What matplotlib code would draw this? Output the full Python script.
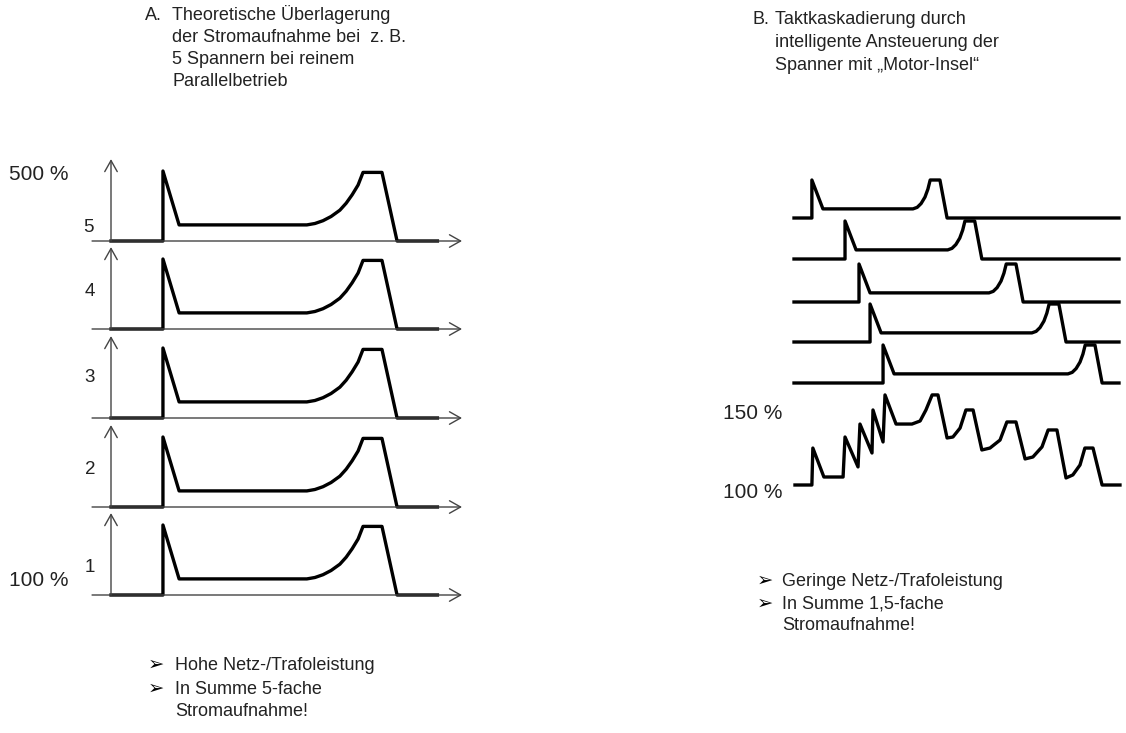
import matplotlib
matplotlib.use('Agg')
import matplotlib.pyplot as plt

W, H = 1126, 733
plt.rcParams['font.family'] = ['Liberation Sans', 'DejaVu Sans']

# --- data -------------------------------------------------------------
# A: current profile of one clamp (time 0..100, current in % of one clamp)
pulse_t = [0, 14.8, 14.8, 19.4, 55.8, 58.1, 60.4, 62.7, 65.2, 67.0, 68.7,
           70.4, 71.8, 77.2, 81.5, 93.0]
pulse_i = [0, 0, 100, 23, 23, 25, 29, 35, 44, 54, 66, 80, 98, 98, 0, 0]
clamps = ['5', '4', '3', '2', '1']

# B: staggered clamps, start of inrush and end of the pulse (time 0..100)
row_start = [5.5, 15.7, 20.0, 23.4, 27.4]
row_end = [47.1, 57.8, 70.5, 83.7, 94.8]
spike_dt = [0, 0, 3.4]          # relative to start
spike_i = [0, 100, 24]
hump_dt = [-10.5, -9.2, -8.0, -6.8, -5.9, -5.2, -2.2, 0]   # relative to end
hump_i = [24, 28, 38, 55, 76, 100, 100, 0]

# B: summed current in %
sum_t = [0.3, 5.5, 5.8, 9.2, 15.1, 15.7, 19.7, 20.3, 24.0, 24.3, 27.4, 28.0,
         31.4, 36.3, 38.8, 40.6, 42.5, 44.3, 47.1, 48.9, 51.1, 52.9, 55.1,
         57.8, 60.3, 63.4, 65.5, 68.3, 71.1, 73.5, 76.3, 78.2, 80.9, 83.7,
         85.8, 88.0, 89.5, 92.0, 94.8, 100.3]
sum_i = [100, 100, 123.1, 105, 105, 130, 111.3, 138.1, 120, 146.9, 126.9,
         156.3, 138.1, 138.1, 140, 146.9, 156.3, 156.3, 129.4, 130, 135.6,
         146.9, 146.9, 121.9, 123.1, 128.1, 139.4, 139.4, 116.3, 117.5,
         123.8, 134.4, 134.4, 104.4, 106.3, 112.5, 123.1, 123.1, 100, 100]


fig = plt.figure(figsize=(W / 100, H / 100), dpi=100)


def px_axes(x0, y0, x1, y1, xlim, ylim):
    a = fig.add_axes([x0 / W, 1 - y1 / H, (x1 - x0) / W, (y1 - y0) / H])
    a.set_xlim(*xlim)
    a.set_ylim(*ylim)
    a.axis('off')
    return a


def ftext(x, y, s, **kw):
    kw.setdefault('fontsize', 13)
    kw.setdefault('color', '#222222')
    kw.setdefault('va', 'center')
    fig.text(x / W, 1 - y / H, s, **kw)


arrow = dict(arrowstyle='->,head_length=0.8,head_width=0.45', lw=1.0,
             color='#444444', shrinkA=0, shrinkB=0)
thick = dict(color='black', lw=2.4, solid_joinstyle='round', clip_on=False)

# --- A: five clamps in parallel --------------------------------------
baselines = [241, 329, 418, 507, 595]
for base in baselines:
    ax = px_axes(111, base - 70, 462, base, (0, 100), (0, 100))
    ax.annotate('', xy=(100, 0), xytext=(-5.4, 0), arrowprops=arrow,
                annotation_clip=False)
    ax.annotate('', xy=(0, 117), xytext=(0, 0), arrowprops=arrow,
                annotation_clip=False)
    ax.plot(pulse_t, pulse_i, **thick)

num_pos = [(88, 228), (90, 291), (90, 378), (90, 470), (90, 568)]
for lab, (x, y) in zip(clamps, num_pos):
    ftext(x, y, lab, ha='center', fontsize=13.5)
ftext(9, 175, '500 %', ha='left', fontsize=15)
ftext(9, 580, '100 %', ha='left', fontsize=15)

# --- B: cascaded clamps ----------------------------------------------
row_base = [218, 259, 302, 342, 383]
for base, s, e in zip(row_base, row_start, row_end):
    ax = px_axes(794, base - 38, 1119, base, (0, 100), (0, 100))
    t = [0] + [s + d for d in spike_dt] + [e + d for d in hump_dt] + [100]
    i = [0] + spike_i + hump_i + [0]
    ax.plot(t, i, **thick)

ax = px_axes(794, 405, 1119, 485, (0, 100), (100, 150))
ax.plot(sum_t, sum_i, **thick)
ftext(723, 413, '150 %', ha='left', fontsize=15)
ftext(723, 493, '100 %', ha='left', fontsize=15)

# --- texts ------------------------------------------------------------
ftext(145, 15, 'A.', ha='left')
for k, line in enumerate(['Theoretische Überlagerung',
                          'der Stromaufnahme bei  z. B.',
                          '5 Spannern bei reinem',
                          'Parallelbetrieb']):
    ftext(172, 15 + 22.3 * k, line, ha='left')

ftext(752, 20, 'B.', ha='left')
for k, line in enumerate(['Taktkaskadierung durch',
                          'intelligente Ansteuerung der',
                          'Spanner mit \u201eMotor-Insel\u201c']):
    ftext(775, 20 + 22.5 * k, line, ha='left')

for y in (665, 689):
    ftext(148, y, '\u27a2', ha='left', fontsize=14, color='black')
ftext(175, 665, 'Hohe Netz-/Trafoleistung', ha='left')
ftext(175, 689, 'In Summe 5-fache', ha='left')
ftext(175, 712, 'Stromaufnahme!', ha='left')

for y in (581, 604):
    ftext(757, y, '\u27a2', ha='left', fontsize=14, color='black')
ftext(782, 581, 'Geringe Netz-/Trafoleistung', ha='left')
ftext(782, 604, 'In Summe 1,5-fache', ha='left')
ftext(782, 626, 'Stromaufnahme!', ha='left')

fig.savefig('out.png', dpi=100, facecolor='white')
